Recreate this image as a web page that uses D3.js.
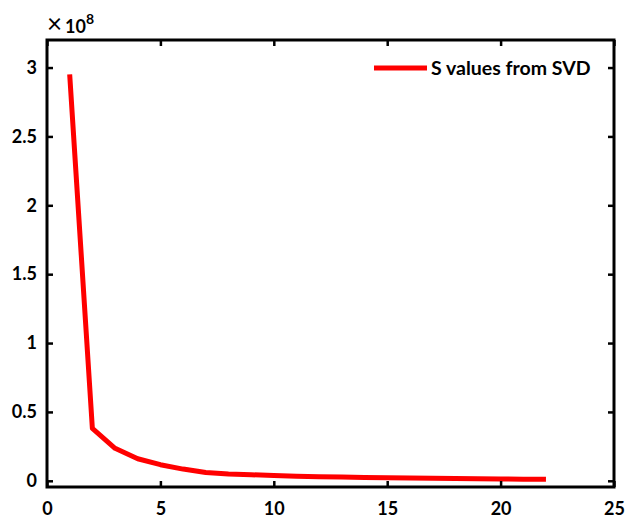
<!DOCTYPE html>
<html lang="en">
<head>
    <meta charset="utf-8">
    <title>S values from SVD</title>
    <script src="https://cdn.jsdelivr.net/npm/d3@7"></script>
    <style>
        body { margin: 0; background: #fff; }
        text { font-family: Lato, "DejaVu Sans", sans-serif; font-weight: bold; fill: #000; }
    </style>
</head>
<body>
<script>
    // singular values (units of 1e8), index 1..22
    var idx = d3.range(1, 23);
    var sVals = [2.95, 0.38, 0.236, 0.16, 0.117, 0.085, 0.06, 0.05, 0.044, 0.038, 0.033,
                 0.030, 0.027, 0.024, 0.022, 0.020, 0.018, 0.016, 0.015, 0.013, 0.012, 0.011];
    var xTicks = [0, 5, 10, 15, 20, 25];
    var yTicks = [0, 0.5, 1, 1.5, 2, 2.5, 3];
    var yTickLabels = ["0", "0.5", "1", "1.5", "2", "2.5", "3"];
    var legendLabel = "S values from SVD";

    var w = 629, h = 518;
    var pLeft = 47, pRight = 614, pTop = 40, pBottom = 487;

    var svg = d3.select("body").append("svg")
        .attr("width", w)
        .attr("height", h);

    var x = d3.scaleLinear().domain([0, 25]).range([pLeft, pRight]);
    var y = d3.scaleLinear().domain([-0.045, 3.2]).range([pBottom, pTop]);

    // data line
    var line = d3.line()
        .x(function(d, i) { return x(idx[i]); })
        .y(function(d) { return y(d); });

    svg.append("path")
        .datum(sVals)
        .attr("d", line)
        .attr("fill", "none")
        .attr("stroke", "#ff0000")
        .attr("stroke-width", 5)
        .attr("stroke-linejoin", "round");

    // axes (ticks inside, mirrored on top/right)
    var tl = 6;
    svg.append("g")
        .attr("transform", "translate(0," + pBottom + ")")
        .call(d3.axisBottom(x).tickValues(xTicks).tickSize(-tl).tickPadding(15))
        .call(function(g) { g.selectAll("text").attr("font-size", 18).attr("dy", "0.71em"); });
    svg.append("g")
        .attr("transform", "translate(0," + pTop + ")")
        .call(d3.axisTop(x).tickValues(xTicks).tickSize(-tl).tickFormat(""));
    svg.append("g")
        .attr("transform", "translate(" + pLeft + ",0)")
        .call(d3.axisLeft(y).tickValues(yTicks).tickSize(-tl).tickPadding(10)
            .tickFormat(function(d, i) { return yTickLabels[i]; }))
        .call(function(g) { g.selectAll("text").attr("font-size", 18); });
    svg.append("g")
        .attr("transform", "translate(" + pRight + ",0)")
        .call(d3.axisRight(y).tickValues(yTicks).tickSize(-tl).tickFormat(""));

    svg.selectAll(".domain").remove();
    svg.selectAll(".tick line").attr("stroke", "#000").attr("stroke-width", 2.5);

    svg.append("rect")
        .attr("x", pLeft).attr("y", pTop)
        .attr("width", pRight - pLeft).attr("height", pBottom - pTop)
        .attr("fill", "none")
        .attr("stroke", "#000")
        .attr("stroke-width", 3);

    // exponent label
    var ex = svg.append("text")
        .attr("x", pLeft)
        .attr("y", 33)
        .attr("font-size", 18);
    ex.append("tspan").attr("font-weight", "normal").attr("font-size", 26).text("\u00d7");
    ex.append("tspan").attr("dx", 3).text("10");
    ex.append("tspan").attr("dy", -9).attr("font-size", 14).text("8");

    // legend
    var ly = 68;
    svg.append("line")
        .attr("x1", 374).attr("x2", 427)
        .attr("y1", ly).attr("y2", ly)
        .attr("stroke", "#ff0000")
        .attr("stroke-width", 5);
    svg.append("text")
        .attr("x", 431).attr("y", ly)
        .attr("dy", "0.35em")
        .attr("font-size", 19.5)
        .text(legendLabel);
</script>
</body>
</html>
